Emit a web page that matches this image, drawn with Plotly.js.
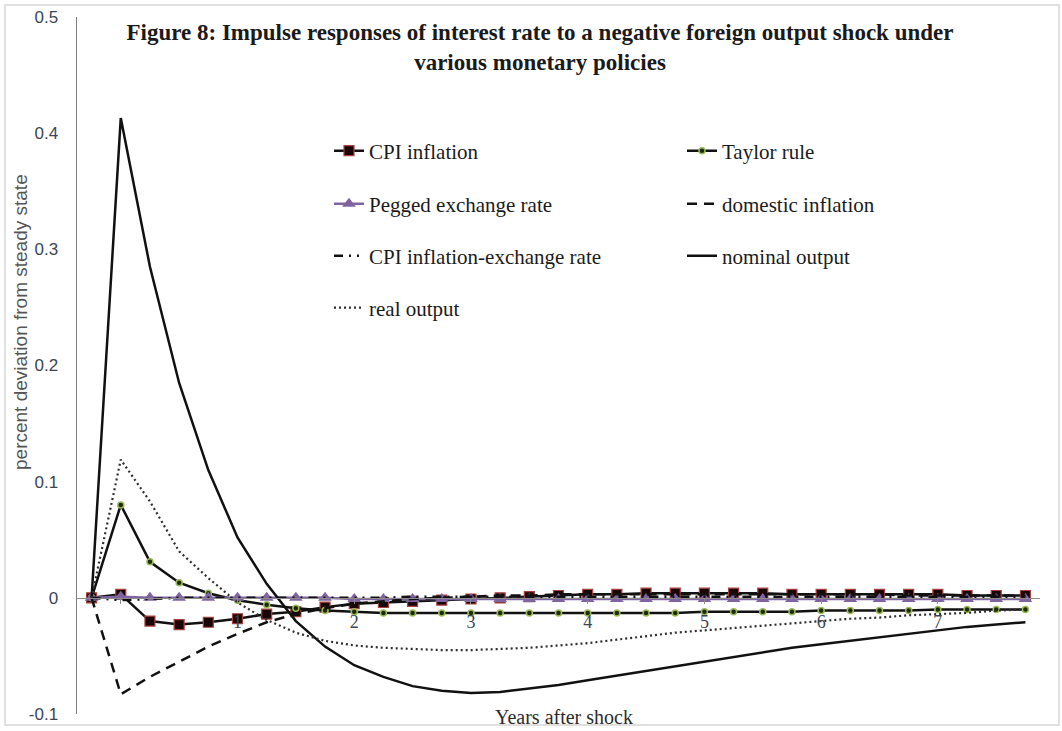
<!DOCTYPE html>
<html>
<head>
<meta charset="utf-8">
<script src="https://cdn.plot.ly/plotly-3.0.1.min.js"></script>
<style>
  html, body { margin: 0; padding: 0; background: #ffffff; }
  #chart { width: 1062px; height: 731px; }
</style>
</head>
<body>
<div id="chart"></div>
<script>
// Years after shock (quarterly steps, first point is the pre-shock steady state)
var years = [-0.25, 0, 0.25, 0.5, 0.75, 1, 1.25, 1.5, 1.75, 2, 2.25, 2.5, 2.75, 3, 3.25, 3.5, 3.75,
             4, 4.25, 4.5, 4.75, 5, 5.25, 5.5, 5.75, 6, 6.25, 6.5, 6.75, 7, 7.25, 7.5, 7.75];

var cpiInflation = [0, 0.003, -0.020, -0.023, -0.021, -0.018, -0.014, -0.012, -0.008, -0.005, -0.004, -0.003,
                    -0.002, -0.001, 0.000, 0.001, 0.002, 0.003, 0.003, 0.004, 0.004, 0.004, 0.004, 0.004,
                    0.003, 0.003, 0.003, 0.003, 0.003, 0.003, 0.002, 0.002, 0.002];

var taylorRule = [0, 0.080, 0.031, 0.013, 0.004, -0.002, -0.006, -0.009, -0.011, -0.012, -0.013, -0.013,
                  -0.013, -0.013, -0.013, -0.013, -0.013, -0.013, -0.013, -0.013, -0.013, -0.012, -0.012,
                  -0.012, -0.012, -0.011, -0.011, -0.011, -0.011, -0.010, -0.010, -0.010, -0.010];

var peggedRate = [0, 0.001, 0.000, 0.000, 0.000, 0.000, 0.000, 0.000, 0.000, -0.001, -0.001, -0.001,
                  -0.001, -0.001, -0.001, -0.001, -0.001, -0.001, -0.001, -0.001, -0.001, -0.001, -0.001,
                  -0.001, -0.001, -0.001, -0.001, -0.001, -0.001, -0.001, -0.001, -0.001, -0.001];

var domesticInflation = [0, -0.083, -0.068, -0.055, -0.042, -0.031, -0.021, -0.014, -0.009, -0.005, -0.003,
                         -0.001, 0.000, 0.001, 0.002, 0.002, 0.003, 0.003, 0.003, 0.003, 0.003, 0.003, 0.003,
                         0.003, 0.003, 0.003, 0.003, 0.003, 0.002, 0.002, 0.002, 0.002, 0.002];

var cpiExchangeRate = [0, -0.002, -0.001, 0.000, 0.000, 0.000, 0.000, 0.000, 0.000, 0.000, 0.000, 0.001,
                       0.001, 0.001, 0.001, 0.001, 0.001, 0.001, 0.001, 0.001, 0.001, 0.001, 0.001, 0.001,
                       0.001, 0.001, 0.001, 0.001, 0.001, 0.001, 0.001, 0.001, 0.001];

var nominalOutput = [0, 0.413, 0.285, 0.185, 0.110, 0.052, 0.012, -0.020, -0.042, -0.058, -0.068, -0.076,
                     -0.080, -0.082, -0.081, -0.078, -0.075, -0.071, -0.067, -0.063, -0.059, -0.055, -0.051,
                     -0.047, -0.043, -0.040, -0.037, -0.034, -0.031, -0.028, -0.025, -0.023, -0.021];

var realOutput = [0, 0.119, 0.083, 0.040, 0.017, -0.004, -0.019, -0.030, -0.037, -0.041, -0.043, -0.044,
                  -0.045, -0.045, -0.044, -0.043, -0.041, -0.039, -0.036, -0.033, -0.030, -0.028, -0.026,
                  -0.024, -0.022, -0.020, -0.018, -0.017, -0.015, -0.014, -0.013, -0.011, -0.010];

var seriesNames = ['CPI inflation', 'Taylor rule', 'Pegged exchange rate', 'domestic inflation',
                   'CPI inflation-exchange rate', 'nominal output', 'real output'];

var yTickVals = [-0.1, 0, 0.1, 0.2, 0.3, 0.4, 0.5];
var yTickText = ['-0.1', '0', '0.1', '0.2', '0.3', '0.4', '0.5'];
var xTickVals = [0, 1, 2, 3, 4, 5, 6, 7];
var xTickText = ['', '1', '2', '3', '4', '5', '6', '7'];

var titleText = 'Figure 8: Impulse responses of interest rate to a negative foreign output shock under<br>various monetary policies';
var xTitle = 'Years after shock';
var yTitle = 'percent deviation from steady state';

var traces = [
  { x: years, y: cpiInflation, name: seriesNames[0], type: 'scatter', mode: 'lines+markers',
    line: { color: '#111111', width: 2.5 },
    marker: { symbol: 'square', size: 10, color: '#1a0606', line: { color: '#a9423f', width: 1.2 } },
    legend: 'legend' },
  { x: years, y: taylorRule, name: seriesNames[1], type: 'scatter', mode: 'lines+markers',
    line: { color: '#111111', width: 2.5 },
    marker: { symbol: 'circle', size: 6, color: '#1f2a0c', line: { color: '#9bbb59', width: 1.5 } },
    legend: 'legend' },
  { x: years, y: peggedRate, name: seriesNames[2], type: 'scatter', mode: 'lines+markers',
    line: { color: '#8064a2', width: 2.5 },
    marker: { symbol: 'triangle-up', size: 12, color: '#8064a2' },
    legend: 'legend2' },
  { x: years, y: domesticInflation, name: seriesNames[3], type: 'scatter', mode: 'lines',
    line: { color: '#111111', width: 2.5, dash: '10px,7px' },
    legend: 'legend2' },
  { x: years, y: cpiExchangeRate, name: seriesNames[4], type: 'scatter', mode: 'lines',
    line: { color: '#111111', width: 2.5, dash: '9px,6px,2px,6px,2px,6px' },
    legend: 'legend3' },
  { x: years, y: nominalOutput, name: seriesNames[5], type: 'scatter', mode: 'lines',
    line: { color: '#111111', width: 2.5 },
    legend: 'legend3' },
  { x: years, y: realOutput, name: seriesNames[6], type: 'scatter', mode: 'lines',
    line: { color: '#2e2e2e', width: 2.2, dash: '2px,3px' },
    legend: 'legend4' }
];

var plotL = 77, plotR = 1040, plotT = 17, plotB = 714;
var plotW = plotR - plotL, plotH = plotB - plotT;
function px2paperX(px) { return (px - plotL) / plotW; }
function px2paperY(py) { return (plotB - py) / plotH; }

function makeLegend(rowY) {
  return {
    orientation: 'h', x: px2paperX(329), xanchor: 'left', y: px2paperY(rowY), yanchor: 'middle',
    entrywidth: 308, entrywidthmode: 'pixels', traceorder: 'normal',
    bgcolor: 'rgba(0,0,0,0)', borderwidth: 0,
    font: { family: 'Liberation Serif, Times New Roman, serif', size: 21, color: '#1b1b1b' }
  };
}

var layout = {
  width: 1062, height: 731,
  paper_bgcolor: '#ffffff', plot_bgcolor: '#ffffff',
  margin: { l: plotL, r: 1062 - plotR, t: plotT, b: 731 - plotB, pad: 0 },
  showlegend: true,
  title: {
    text: titleText, xref: 'container', x: 540 / 1062, xanchor: 'center',
    yref: 'container', y: 1 - 40 / 731, yanchor: 'middle',
    font: { family: 'Liberation Serif, Times New Roman, serif', size: 23, color: '#1a1a1a', weight: 'bold' }
  },
  xaxis: {
    range: [-0.375, 7.875], anchor: 'free', position: 1 / 6,
    showgrid: false, zeroline: false, showline: true, linecolor: '#8c8c8c', linewidth: 1.5,
    tickmode: 'array', tickvals: xTickVals, ticktext: xTickText,
    ticks: 'outside', ticklen: 5, tickcolor: '#8c8c8c', ticklabelstandoff: 2,
    tickfont: { family: 'Liberation Serif, Times New Roman, serif', size: 18, color: '#3b4655' }
  },
  yaxis: {
    range: [-0.1, 0.5],
    showgrid: false, zeroline: false, showline: true, linecolor: '#7f7f7f', linewidth: 1.5,
    tickmode: 'array', tickvals: yTickVals, ticktext: yTickText,
    ticks: 'outside', ticklen: 14, tickcolor: 'rgba(0,0,0,0)',
    tickfont: { family: 'Liberation Sans, Arial, sans-serif', size: 17, color: '#3b4655' }
  },
  legend: makeLegend(151),
  legend2: makeLegend(204),
  legend3: makeLegend(256),
  legend4: makeLegend(308),
  annotations: [
    { text: xTitle, xref: 'paper', yref: 'paper', x: px2paperX(564), y: px2paperY(717),
      xanchor: 'center', yanchor: 'middle', showarrow: false,
      font: { family: 'Liberation Serif, Times New Roman, serif', size: 20, color: '#2b2b2b' } },
    { text: yTitle, xref: 'paper', yref: 'paper', x: px2paperX(20), y: px2paperY(322),
      xanchor: 'center', yanchor: 'middle', showarrow: false, textangle: -90,
      font: { family: 'Liberation Sans, Arial, sans-serif', size: 19, color: '#555555' } }
  ],
  shapes: [
    { type: 'rect', xref: 'paper', yref: 'paper',
      x0: px2paperX(5), x1: px2paperX(1059), y0: px2paperY(725), y1: px2paperY(5),
      line: { color: '#d6d6d6', width: 1.5 }, fillcolor: 'rgba(0,0,0,0)', layer: 'below' }
  ]
};

Plotly.newPlot('chart', traces, layout, { displayModeBar: false, staticPlot: true });
</script>
</body>
</html>
